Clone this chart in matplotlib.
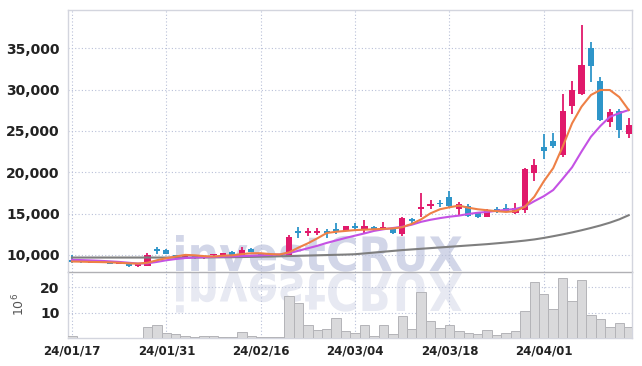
import matplotlib
matplotlib.use('Agg')
import matplotlib.pyplot as plt
import numpy as np
from matplotlib.textpath import TextPath
from matplotlib.patches import PathPatch
from matplotlib.font_manager import FontProperties
from matplotlib.transforms import Affine2D, IdentityTransform
from matplotlib.ticker import FuncFormatter

plt.rcParams['font.family'] = ['Liberation Sans Narrow', 'DejaVu Sans']

tick_idx = [0, 10, 20, 30, 40, 50]
tick_dates = ['24/01/17', '24/01/31', '24/02/16', '24/03/04', '24/03/18', '24/04/01']

opens = [9350, 9230, 9050, 9050, 9060, 8880, 8900, 8680, 8680, 10500,
         10560, 9930, 9800, 9930, 9600, 9950, 9840, 10400, 9870, 10750,
         10100, 10000, 10100, 9800, 12750, 12700, 12700, 12750, 13050, 12930,
         13530, 13100, 13400, 13230, 13220, 12500, 14250, 15520, 15950, 16200,
         17040, 15560, 15950, 15040, 14620, 15480, 15630, 15100, 15430, 19880,
         23100, 23780, 22090, 28050, 29470, 35070, 31040, 26120, 27410, 24630]
highs = [10000, 9250, 9200, 9180, 9100, 9000, 8920, 8850, 10250, 10900,
         10700, 10000, 9980, 9950, 9850, 10150, 10250, 10450, 10960, 10800,
         10150, 10100, 10150, 12450, 13350, 13200, 13250, 13100, 13900, 13500,
         13800, 14200, 13450, 14000, 13250, 14600, 14450, 17450, 16650, 16650,
         17700, 16370, 16130, 15100, 15600, 15750, 16150, 16250, 20480, 21570,
         24630, 24720, 29430, 31040, 37820, 35730, 31560, 27620, 27650, 26530]
lows = [9050, 9050, 9030, 9020, 8930, 8850, 8580, 8550, 8600, 10100,
        10050, 9550, 9750, 9550, 9480, 9900, 9800, 10000, 9830, 10300,
        9800, 9750, 9700, 9750, 12050, 12300, 12400, 12050, 12500, 12900,
        13000, 12650, 13050, 13000, 12500, 12330, 13700, 14630, 15550, 15750,
        15800, 14830, 14550, 14500, 14550, 15100, 15200, 14900, 15100, 18980,
        21570, 22900, 21880, 27010, 29350, 30890, 26200, 25510, 24180, 24180]
closes = [9150, 9080, 9180, 9150, 8950, 8960, 8600, 8780, 9990, 10460,
          10080, 9600, 9900, 9600, 9700, 10050, 10200, 10030, 10630, 10350,
          9850, 9800, 9720, 12130, 12650, 12800, 12800, 12650, 12950, 13460,
          13220, 13530, 13150, 13330, 12690, 14430, 14150, 15800, 16080, 16120,
          15950, 16130, 14750, 14550, 15310, 15400, 15250, 15630, 20360, 20880,
          22620, 23220, 27450, 29950, 32980, 32860, 26320, 27260, 25110, 25720]

# volume in millions
volume = [0.9, 0.2, 0.2, 0.2, 0.2, 0.2, 0.2, 0.2, 4.5, 5.2,
          1.9, 1.5, 0.7, 0.6, 1.0, 0.7, 0.5, 0.5, 2.3, 0.9,
          0.5, 0.4, 0.4, 16.6, 13.7, 5.2, 3.2, 3.5, 7.8, 2.8,
          2.2, 5.2, 0.9, 5.2, 1.6, 8.7, 3.5, 18.0, 6.7, 3.8,
          5.2, 2.8, 1.9, 1.5, 3.1, 1.1, 1.9, 2.7, 10.5, 22.2,
          17.2, 11.3, 23.5, 14.5, 22.8, 9.0, 7.4, 4.2, 5.8, 4.2]

ma_short = [9200, 9180, 9150, 9130, 9100, 9050, 8980, 8950, 9050, 9350,
            9600, 9800, 10000, 9950, 9850, 9800, 9900, 9950, 10100, 10200,
            10200, 10100, 10050, 10300, 10880, 11400, 12000, 12650, 12800, 12900,
            13000, 13050, 13100, 13150, 13200, 13350, 13750, 14300, 15030, 15520,
            15760, 15960, 15710, 15520, 15400, 15290, 15200, 15290, 15830, 17040,
            18900, 20500, 23090, 25920, 27930, 29350, 29950, 29950, 29100, 27530]
ma_mid = [9400, 9370, 9330, 9280, 9220, 9150, 9050, 8950, 8980, 9150,
          9350, 9500, 9620, 9680, 9720, 9760, 9790, 9820, 9860, 9900,
          9950, 10000, 10050, 10200, 10500, 10800, 11100, 11450, 11750, 12050,
          12330, 12600, 12900, 13100, 13250, 13400, 13650, 14000, 14250, 14450,
          14620, 14750, 14950, 15100, 15200, 15330, 15450, 15560, 15850, 16500,
          17100, 17850, 19200, 20600, 22500, 24300, 25600, 26700, 27150, 27530]
ma_long = [9680, 9680, 9680, 9680, 9680, 9680, 9680, 9680, 9680, 9680,
           9680, 9680, 9680, 9680, 9690, 9700, 9710, 9720, 9740, 9760,
           9780, 9800, 9830, 9860, 9890, 9920, 9950, 9980, 10010, 10040,
           10080, 10180, 10280, 10380, 10480, 10580, 10660, 10740, 10820, 10900,
           10980, 11060, 11140, 11220, 11300, 11400, 11500, 11610, 11730, 11870,
           12050, 12260, 12480, 12720, 12980, 13260, 13560, 13900, 14300, 14800]

up_color = '#e0196b'
down_color = '#2e95c9'
grid_color = '#b9c0d8'
frame_color = '#d3d5de'
text_color = '#222222'

fig = plt.figure(figsize=(6.42, 3.66), dpi=100)
fig.patch.set_facecolor('white')
ax = fig.add_axes([68/642, 1-272/366, 564/642, 262/366])
axv = fig.add_axes([68/642, 1-337.5/366, 564/642, 65.5/366], sharex=ax)
for a in (ax, axv):
    a.set_facecolor('none')

x = np.arange(len(closes))
o = np.array(opens); c = np.array(closes)
colors = [up_color if cc >= oo else down_color for oo, cc in zip(opens, closes)]

ax.vlines(x, lows, highs, colors=colors, linewidth=1.3, zorder=3)
bottoms = np.minimum(o, c)
heights = np.maximum(np.abs(c - o), 200)
ax.bar(x, heights, bottom=bottoms, width=0.65, color=colors, linewidth=0, zorder=4)

ax.plot(x, ma_long, color='#7f7f7f', linewidth=1.5, zorder=5)
ax.plot(x, ma_mid, color='#c452e4', linewidth=1.5, zorder=5)
ax.plot(x, ma_short, color='#ee8046', linewidth=1.5, zorder=6)

axv.bar(x, volume, width=1.0, color='#d9d9db', edgecolor='#b4b4b8', linewidth=0.7, zorder=3)

ax.set_xlim(-0.42, 59.35)
ax.set_ylim(7930, 39630)
axv.set_ylim(0.25, 26.0)

ax.set_yticks([10000, 15000, 20000, 25000, 30000, 35000])
ax.yaxis.set_major_formatter(FuncFormatter(lambda v, p: '{:,}'.format(int(v))))
axv.set_yticks([10, 20])
axv.set_xticks(tick_idx)
axv.set_xticklabels(tick_dates)
plt.setp(ax.get_xticklabels(), visible=False)
axv.set_ylabel(r'$10^6$', fontsize=9, color='#555555', labelpad=9)

for a in (ax, axv):
    a.grid(True, color=grid_color, linestyle=(0, (1, 2)), linewidth=0.8, zorder=1)
    a.set_axisbelow(True)
    a.tick_params(length=0, labelsize=10, labelcolor=text_color, pad=6)
    for lbl in a.get_xticklabels() + a.get_yticklabels():
        lbl.set_fontweight('bold')
    for s in a.spines.values():
        s.set_color(frame_color)
        s.set_linewidth(1.0)
ax.spines['bottom'].set_color('#b0b0b4')
axv.spines['top'].set_visible(False)
axv.tick_params(axis='x', pad=5, labelsize=8.5)

# watermark with reflection
fp = FontProperties(family='DejaVu Sans', weight='bold')
tp = TextPath((0, 0), 'investCRUX', size=100, prop=fp)
bb = tp.get_extents()
sx = (462 - 176) / bb.width
sy = (271 - 235) / bb.y1
wm = Affine2D().translate(-bb.x0, 0).scale(sx, sy).translate(176, 366 - 271)
fig.add_artist(PathPatch(wm.transform_path(tp), facecolor='#d2d6e8', edgecolor='none',
                         transform=IdentityTransform(), zorder=-2))
rf = Affine2D().translate(-bb.x0, 0).scale(sx, -sy * 1.1).translate(176, 366 - 273)
fig.add_artist(PathPatch(rf.transform_path(tp), facecolor='#e7e9f2', edgecolor='none',
                         transform=IdentityTransform(), zorder=-2))

fig.savefig('out.png', dpi=100)
